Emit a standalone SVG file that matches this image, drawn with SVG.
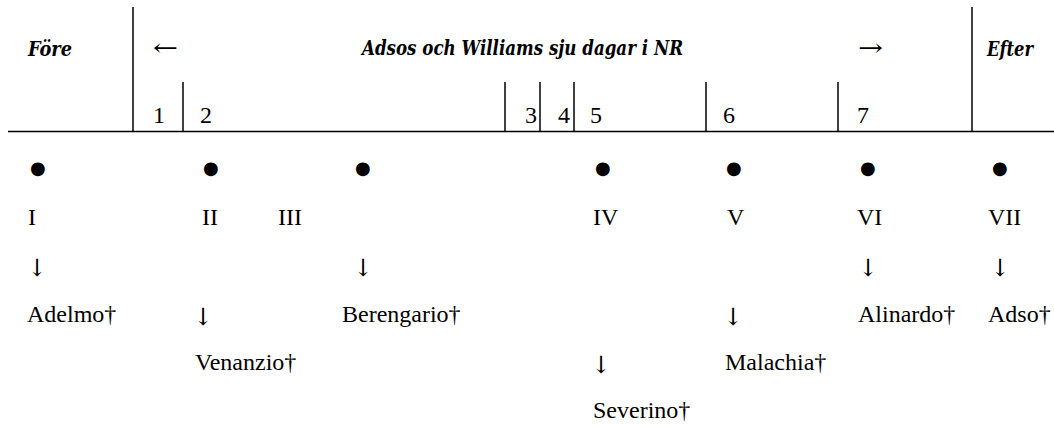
<svg xmlns="http://www.w3.org/2000/svg" width="1054" height="426" viewBox="0 0 1054 426">
<style>
.h{font-family:"DejaVu Serif","Liberation Serif",serif;font-style:italic;font-weight:bold;font-stretch:condensed;font-size:21px;fill:#000}
.t{font-family:"Liberation Serif","Times New Roman",serif;font-size:24px;fill:#000}
.a{font-family:"DejaVu Serif",serif;font-size:24px;fill:#000}
.d{font-family:"DejaVu Sans",sans-serif;font-size:18px;fill:#000}
.ln{stroke:#000;stroke-width:1.5;fill:none}
</style>
<rect width="1054" height="426" fill="#fff"/>
<g id="rules">
<line class="ln" x1="8" y1="131.5" x2="1054" y2="131.5"/>
<line class="ln" x1="133" y1="7" x2="133" y2="131"/>
<line class="ln" x1="972" y1="7" x2="972" y2="131"/>
<line class="ln" x1="183" y1="82" x2="183" y2="131"/>
<line class="ln" x1="505" y1="82" x2="505" y2="131"/>
<line class="ln" x1="540" y1="82" x2="540" y2="131"/>
<line class="ln" x1="574" y1="82" x2="574" y2="131"/>
<line class="ln" x1="706" y1="82" x2="706" y2="131"/>
<line class="ln" x1="838" y1="82" x2="838" y2="131"/>
</g>
<g id="header">
<text class="h" x="28" y="56" textLength="44" lengthAdjust="spacingAndGlyphs">Före</text>
<text class="a" x="153" y="56" textLength="25" lengthAdjust="spacingAndGlyphs">←</text>
<text class="h" x="362" y="55" textLength="321" lengthAdjust="spacingAndGlyphs">Adsos och Williams sju dagar i NR</text>
<text class="a" x="858" y="56" textLength="25" lengthAdjust="spacingAndGlyphs">→</text>
<text class="h" x="987" y="56" textLength="46" lengthAdjust="spacingAndGlyphs">Efter</text>
</g>
<g id="days">
<text class="t" x="153" y="123">1</text>
<text class="t" x="200" y="123">2</text>
<text class="t" x="525" y="123">3</text>
<text class="t" x="558" y="123">4</text>
<text class="t" x="590" y="123">5</text>
<text class="t" x="723" y="123">6</text>
<text class="t" x="857" y="123">7</text>
</g>
<g id="col-I">
<text class="d" x="30" y="174">●</text>
<text class="t" x="28" y="225">I</text>
<text class="a" x="27" y="276">↓</text>
<text class="t" x="27" y="322">Adelmo†</text>
</g>
<g id="col-II">
<text class="d" x="203" y="174">●</text>
<text class="t" x="202" y="225">II</text>
<text class="t" x="278" y="225">III</text>
<text class="a" x="193" y="325">↓</text>
<text class="t" x="195" y="370">Venanzio†</text>
</g>
<g id="col-Berengario">
<text class="d" x="355" y="174">●</text>
<text class="a" x="353" y="276">↓</text>
<text class="t" x="342" y="322">Berengario†</text>
</g>
<g id="col-IV">
<text class="d" x="595" y="174">●</text>
<text class="t" x="593" y="225">IV</text>
<text class="a" x="591" y="373">↓</text>
<text class="t" x="593" y="418">Severino†</text>
</g>
<g id="col-V">
<text class="d" x="726" y="174">●</text>
<text class="t" x="727" y="225">V</text>
<text class="a" x="723" y="325">↓</text>
<text class="t" x="725" y="370">Malachia†</text>
</g>
<g id="col-VI">
<text class="d" x="860" y="174">●</text>
<text class="t" x="857" y="225">VI</text>
<text class="a" x="858" y="276">↓</text>
<text class="t" x="858" y="322">Alinardo†</text>
</g>
<g id="col-VII">
<text class="d" x="992" y="174">●</text>
<text class="t" x="988" y="225">VII</text>
<text class="a" x="990" y="276">↓</text>
<text class="t" x="988" y="322">Adso†</text>
</g>
</svg>
